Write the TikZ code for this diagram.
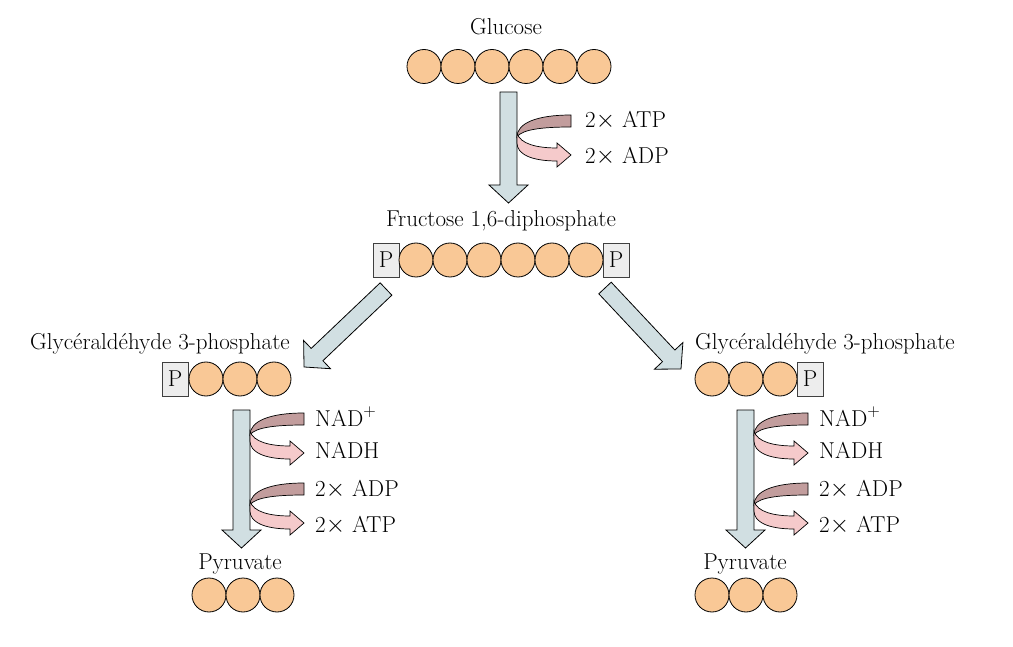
\documentclass[tikz,border=0pt]{standalone}
\usetikzlibrary{calc}
\definecolor{peach}{HTML}{F9C896}
\definecolor{pgray}{HTML}{EDEDED}
\definecolor{shaftc}{HTML}{D1DFE2}
\definecolor{ribdark}{HTML}{C29D9D}
\definecolor{riblight}{HTML}{F5CACB}
\newcommand\blockarr[2]{%
  \path (#1); \pgfgetlastxy{\ax}{\ay}%
  \path (#2); \pgfgetlastxy{\bx}{\by}%
  \pgfmathsetmacro\bang{atan2(\by-\ay,\bx-\ax)}%
  \pgfmathsetmacro\blen{veclen(\bx-\ax,\by-\ay)}%
  \draw[barrow, shift={(#1)}, rotate=\bang]
    (0pt,-8.5pt) -- (\blen pt-18pt,-8.5pt) -- (\blen pt-18pt,-19.5pt) -- (\blen pt,0pt)
    -- (\blen pt-18pt,19.5pt) -- (\blen pt-18pt,8.5pt) -- (0pt,8.5pt) -- cycle;
}
\begin{document}
\begin{tikzpicture}[x=1pt,y=-1pt,
  font=\fontsize{23}{27}\selectfont,
  bead/.style={circle, draw=black, fill=peach, minimum size=34pt, inner sep=0pt, line width=0.8pt},
  pbox/.style={rectangle, draw=black!75, fill=pgray, minimum width=26pt, minimum height=34pt, inner sep=0pt, line width=0.8pt},
  lbl/.style={anchor=base, inner sep=0pt},
  side/.style={anchor=base west, inner sep=0pt},
  barrow/.style={draw=black, fill=shaftc, line width=0.8pt, line join=miter},
  ribbon/.pic={
    \draw[fill=ribdark, line width=0.7pt] (54,0) -- (54,12) .. controls (28,12) and (5,14) .. (0,22)
      .. controls (0,8) and (20,0) .. (54,0) -- cycle;
    \draw[fill=riblight, line width=0.7pt] (0,18) .. controls (3,29) and (20,33) .. (40,33) -- (40,28) -- (54,40)
      -- (40,52) -- (40,46) .. controls (14,46) and (0,39) .. (0,28) -- cycle;
  }]
\useasboundingbox (0,0) rectangle (1013,647);

% Glucose
\node[lbl] (tglu) at (506,35) {Glucose};
\foreach \i in {1,...,6} \node[bead] (g\i) at (390+34*\i,66.5) {};

% Fructose 1,6-diphosphate
\node[lbl] (tfru) at (501,227) {Fructose 1,6-diphosphate};
\node[pbox] (fpl) at (386,260) {P};
\foreach \i in {1,...,6} \node[bead] (f\i) at (382+34*\i,260) {};
\node[pbox] (fpr) at (616,260) {P};

% G3P left
\node[lbl] (tgl) at (160,349) {Glycéraldéhyde 3-phosphate};
\node[pbox] (glp) at (175,379) {P};
\foreach \i in {1,...,3} \node[bead] (gl\i) at (172+34*\i,379) {};

% G3P right
\node[lbl] (tgr) at (825,349) {Glycéraldéhyde 3-phosphate};
\foreach \i in {1,...,3} \node[bead] (gr\i) at (678+34*\i,379) {};
\node[pbox] (grp) at (810,379) {P};

% Pyruvate
\node[lbl] (tpl) at (240,569) {Pyruvate};
\foreach \i in {1,...,3} \node[bead] (pl\i) at (175+34*\i,595) {};
\node[lbl] (tpr) at (745,569) {Pyruvate};
\foreach \i in {1,...,3} \node[bead] (pr\i) at (678+34*\i,595) {};

% block arrows
\coordinate (a1s) at (508.5,92);  \coordinate (a1e) at (508.5,203);
\coordinate (a2s) at (386,289);   \coordinate (a2e) at (304,367);
\coordinate (a3s) at (605,288);   \coordinate (a3e) at (681,369);
\coordinate (a4s) at (241.5,410); \coordinate (a4e) at (241.5,548);
\coordinate (a5s) at (745.5,410); \coordinate (a5e) at (745.5,548);
\blockarr{a1s}{a1e}
\blockarr{a2s}{a2e}
\blockarr{a3s}{a3e}
\blockarr{a4s}{a4e}
\blockarr{a5s}{a5e}

% ribbons
\pic at (517,115) {ribbon};
\pic at (250,413) {ribbon};
\pic at (250,483) {ribbon};
\pic at (754,413) {ribbon};
\pic at (754,483) {ribbon};

% side labels
\node[side] (s1) at (585,128) {2$\times$ ATP};
\node[side] (s2) at (585,164) {2$\times$ ADP};
\node[side] (l1) at (315,426) {NAD$^+$};
\node[side] (l2) at (315,458) {NADH};
\node[side] (l3) at (315,496) {2$\times$ ADP};
\node[side] (l4) at (315,532) {2$\times$ ATP};
\node[side] (r1) at (819,426) {NAD$^+$};
\node[side] (r2) at (819,458) {NADH};
\node[side] (r3) at (819,496) {2$\times$ ADP};
\node[side] (r4) at (819,532) {2$\times$ ATP};
\end{tikzpicture}
\end{document}
